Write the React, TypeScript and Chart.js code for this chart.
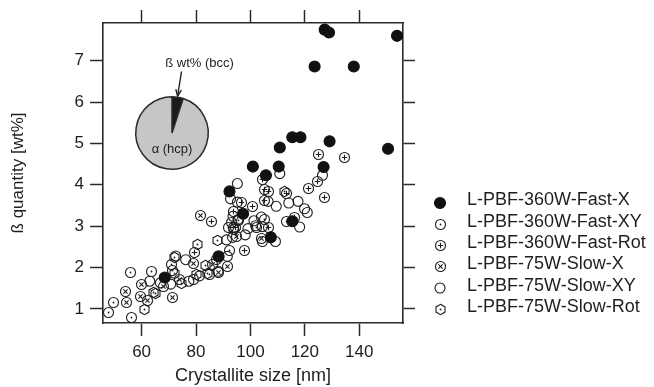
import React, { useEffect, useRef } from 'react';
import { Chart, registerables } from 'chart.js';
Chart.register(...registerables);

// ---------------- data ----------------
const seriesLabels = [
  'L-PBF-360W-Fast-X',
  'L-PBF-360W-Fast-XY',
  'L-PBF-360W-Fast-Rot',
  'L-PBF-75W-Slow-X',
  'L-PBF-75W-Slow-XY',
  'L-PBF-75W-Slow-Rot',
];

const fastX_x = [68.5, 88.3, 92.3, 97.3, 100.9, 105.7, 107.5, 110.4, 110.8, 115.4, 115.4, 118.4, 123.6, 126.9, 127.3, 128.9, 129.1, 138.0, 150.6, 153.9];
const fastX_y = [1.76, 2.27, 3.84, 3.30, 4.44, 4.23, 2.73, 4.44, 4.90, 3.12, 5.15, 5.15, 6.86, 4.43, 7.75, 7.68, 5.05, 6.86, 4.87, 7.60];

const fastXY_x = [48.0, 49.5, 56.2, 56.0, 63.6, 71.5, 70.9, 78.9, 92.4, 87.5, 93.6, 102.2, 92.0, 93.0, 95.7, 105.2, 113.2, 84.8];
const fastXY_y = [0.92, 1.16, 0.80, 1.88, 1.91, 1.93, 2.07, 1.71, 2.41, 2.19, 2.96, 2.96, 2.98, 3.08, 3.13, 3.16, 3.12, 1.83];

const fastRot_x = [79.3, 85.7, 97.9, 93.9, 94.5, 106.5, 100.9, 96.7, 104.3, 105.2, 106.5, 105.0, 113.2, 116.3, 121.2, 124.8, 127.1, 125.2, 134.7];
const fastRot_y = [2.37, 3.12, 2.42, 3.36, 2.96, 2.97, 3.48, 3.58, 4.12, 3.88, 3.83, 3.62, 3.80, 3.20, 3.90, 4.08, 3.70, 4.73, 4.66];

const slowX_x = [54.1, 54.6, 59.9, 59.5, 62.1, 68.1, 71.5, 74.0, 81.7, 79.1, 86.2, 94.8, 91.5, 88.3, 104.0];
const slowX_y = [1.43, 1.16, 1.60, 1.30, 1.20, 1.55, 1.28, 1.71, 3.25, 2.11, 2.07, 2.75, 2.03, 1.89, 2.71];

const slowXY_x = [63.0, 66.9, 70.7, 72.5, 76.2, 77.4, 81.3, 88.1, 91.2, 93.4, 91.5, 99.1, 104.4, 109.2, 98.1, 93.9, 95.4, 93.6, 101.3, 101.9, 104.0, 104.4, 95.2, 92.7, 95.2, 106.5, 109.5, 110.8, 114.1, 117.5, 119.9, 120.9, 118.1, 126.5];
const slowXY_y = [1.67, 1.63, 1.60, 2.28, 2.19, 1.67, 1.80, 1.91, 2.67, 2.73, 2.27, 2.94, 2.63, 2.63, 2.79, 2.92, 3.16, 3.24, 3.13, 3.01, 3.22, 2.99, 3.58, 3.66, 4.03, 3.60, 3.48, 4.27, 3.56, 3.60, 3.42, 3.33, 2.98, 4.23];

const slowRot_x = [60.9, 64.2, 65.2, 72.2, 72.2, 74.6, 80.7, 80.1, 84.4, 83.4, 87.9, 112.6];
const slowRot_y = [0.99, 1.40, 1.37, 2.25, 1.86, 1.61, 2.55, 1.83, 1.85, 2.06, 2.66, 3.84];

const xTicks = [60, 80, 100, 120, 140];
const yTicks = [1, 2, 3, 4, 5, 6, 7];
const X_MIN = 45.8;
const X_MAX = 156.1;
const Y_MIN = 0.66;
const Y_MAX = 7.91;

const xTitle = 'Crystallite size [nm]';
const yTitle = 'ß quantity [wt%]';

const pieLabels = ['ß wt% (bcc)', 'α (hcp)'];
const pieValues = [5, 95];

// ---------------- style ----------------
const FONT = "'Liberation Sans', Arial, Helvetica, sans-serif";
const INK = '#1e1e1e';
const AXIS = '#2b2b2b';

function makeMarker(kind: string, r: number): HTMLCanvasElement {
  const s = 2 * Math.ceil(r) + 3;
  const c = document.createElement('canvas');
  c.width = s;
  c.height = s;
  const g = c.getContext('2d')!;
  const m = s / 2;
  g.strokeStyle = INK;
  g.fillStyle = INK;
  g.lineWidth = 1.1;
  if (kind === 'hex') {
    g.beginPath();
    for (let i = 0; i < 6; i++) {
      const a = -Math.PI / 2 + (i * Math.PI) / 3;
      const px = m + r * Math.cos(a);
      const py = m + r * Math.sin(a);
      if (i === 0) g.moveTo(px, py);
      else g.lineTo(px, py);
    }
    g.closePath();
    g.stroke();
  } else {
    g.beginPath();
    g.arc(m, m, r, 0, Math.PI * 2);
    g.stroke();
  }
  if (kind === 'dot' || kind === 'hex') {
    g.beginPath();
    g.arc(m, m, 0.9, 0, Math.PI * 2);
    g.fill();
  } else if (kind === 'plus') {
    const d = r * 0.55;
    g.beginPath();
    g.moveTo(m - d, m);
    g.lineTo(m + d, m);
    g.moveTo(m, m - d);
    g.lineTo(m, m + d);
    g.stroke();
  } else if (kind === 'cross') {
    const d = r * 0.42;
    g.beginPath();
    g.moveTo(m - d, m - d);
    g.lineTo(m + d, m + d);
    g.moveTo(m + d, m - d);
    g.lineTo(m - d, m + d);
    g.stroke();
  }
  return c;
}

const pts = (xs: number[], ys: number[]) => xs.map((x, i) => ({ x, y: ys[i] }));

// keep image markers crisp at fractional pixel positions
const crispMarkers = {
  id: 'crispMarkers',
  beforeDatasetsDraw(chart: any) {
    chart.ctx.save();
    chart.ctx.imageSmoothingEnabled = false;
  },
  afterDatasetsDraw(chart: any) {
    chart.ctx.restore();
  },
};

const sideLegend = {
  id: 'sideLegend',
  afterDraw(chart: any) {
    const ctx = chart.ctx;
    ctx.save();
    ctx.font = `18px ${FONT}`;
    ctx.textBaseline = 'middle';
    ctx.textAlign = 'left';
    chart.data.datasets.forEach((ds: any, i: number) => {
      const ty = 200.5 + i * 21.3;
      const my = Math.round(ty + 2);
      const mx = 440;
      const ps = ds.pointStyle;
      if (ps instanceof HTMLCanvasElement) {
        ctx.drawImage(ps, Math.round(mx - ps.width / 2), Math.round(my - ps.height / 2));
      } else {
        ctx.beginPath();
        ctx.arc(mx, my, ds.pointRadius, 0, Math.PI * 2);
        ctx.fillStyle = ds.backgroundColor;
        ctx.fill();
        ctx.lineWidth = ds.borderWidth;
        ctx.strokeStyle = ds.borderColor;
        ctx.stroke();
      }
      ctx.fillStyle = INK;
      ctx.fillText(ds.label, 467, ty);
    });
    ctx.restore();
  },
};

const insetNote = {
  id: 'insetNote',
  afterDraw(chart: any) {
    const ctx = chart.ctx;
    ctx.save();
    ctx.font = `13px ${FONT}`;
    ctx.fillStyle = INK;
    ctx.textAlign = 'center';
    ctx.textBaseline = 'middle';
    ctx.fillText(pieLabels[0], 199.5, 63);
    const x0 = 181.5, y0 = 71.5, x1 = 177.6, y1 = 96;
    ctx.strokeStyle = INK;
    ctx.lineWidth = 1.4;
    ctx.beginPath();
    ctx.moveTo(x0, y0);
    ctx.lineTo(x1, y1);
    ctx.stroke();
    const ang = Math.atan2(y1 - y0, x1 - x0);
    const hl = 7, hw = 0.42;
    ctx.beginPath();
    ctx.moveTo(x1 - hl * Math.cos(ang - hw), y1 - hl * Math.sin(ang - hw));
    ctx.lineTo(x1, y1);
    ctx.lineTo(x1 - hl * Math.cos(ang + hw), y1 - hl * Math.sin(ang + hw));
    ctx.stroke();
    ctx.restore();
  },
};

const pieText = {
  id: 'pieText',
  afterDraw(chart: any) {
    const ctx = chart.ctx;
    ctx.save();
    ctx.font = `13px ${FONT}`;
    ctx.fillStyle = INK;
    ctx.textAlign = 'center';
    ctx.textBaseline = 'middle';
    ctx.fillText(pieLabels[1], 40, 56);
    ctx.restore();
  },
};

function axis(position: string, ticksArr: number[], min: number, max: number, size: number, tickLen: number, showLabels: boolean, title?: string, titleSize?: number, titlePad?: any) {
  const horizontal = position === 'top' || position === 'bottom';
  return {
    type: 'linear',
    position,
    min,
    max,
    afterBuildTicks: (s: any) => {
      s.ticks = ticksArr.map((v) => ({ value: v }));
    },
    afterFit: (s: any) => {
      if (horizontal) s.height = size;
      else s.width = size;
    },
    ticks: {
      display: showLabels,
      font: { size: 17, family: FONT },
      color: INK,
      padding: 6,
      maxRotation: 0,
      autoSkip: false,
    },
    grid: {
      drawOnChartArea: false,
      drawTicks: true,
      tickLength: tickLen,
      tickWidth: 1.5,
      tickColor: AXIS,
      color: AXIS,
    },
    border: { display: true, color: AXIS, width: 1.6 },
    title: title
      ? { display: true, text: title, color: INK, font: { size: titleSize, family: FONT }, padding: titlePad }
      : { display: false },
  };
}

export default function App() {
  const mainRef = useRef<HTMLCanvasElement>(null);
  const pieRef = useRef<HTMLCanvasElement>(null);

  useEffect(() => {
    Chart.defaults.font.family = FONT;
    Chart.defaults.color = INK;

    const mDot = makeMarker('dot', 5);
    const mPlus = makeMarker('plus', 5);
    const mCross = makeMarker('cross', 5);
    const mHex = makeMarker('hex', 5.2);

    const common = { showLine: false, borderWidth: 1.1, borderColor: INK };
    const datasets: any[] = [
      { ...common, label: seriesLabels[0], data: pts(fastX_x, fastX_y), pointStyle: 'circle', pointRadius: 5.5, backgroundColor: '#111', borderColor: '#111' },
      { ...common, label: seriesLabels[1], data: pts(fastXY_x, fastXY_y), pointStyle: mDot, pointRadius: 5, backgroundColor: 'rgba(0,0,0,0)' },
      { ...common, label: seriesLabels[2], data: pts(fastRot_x, fastRot_y), pointStyle: mPlus, pointRadius: 5, backgroundColor: 'rgba(0,0,0,0)' },
      { ...common, label: seriesLabels[3], data: pts(slowX_x, slowX_y), pointStyle: mCross, pointRadius: 5, backgroundColor: 'rgba(0,0,0,0)' },
      { ...common, label: seriesLabels[4], data: pts(slowXY_x, slowXY_y), pointStyle: 'circle', pointRadius: 5, backgroundColor: 'rgba(0,0,0,0)' },
      { ...common, label: seriesLabels[5], data: pts(slowRot_x, slowRot_y), pointStyle: mHex, pointRadius: 5, backgroundColor: 'rgba(0,0,0,0)' },
    ];

    const main = new Chart(mainRef.current!, {
      type: 'scatter',
      data: { datasets },
      options: {
        responsive: false,
        animation: false,
        events: [],
        layout: { padding: 0 },
        plugins: { legend: { display: false }, tooltip: { enabled: false } },
        scales: {
          x: axis('bottom', xTicks, X_MIN, X_MAX, 64, 13, true, xTitle, 18, { top: 0, bottom: 0 }),
          x2: axis('top', xTicks, X_MIN, X_MAX, 23, 13, false),
          y: axis('left', yTicks, Y_MIN, Y_MAX, 103, 13, true, yTitle, 17, { top: 8, bottom: 0 }),
          y2: axis('right', yTicks, Y_MIN, Y_MAX, 251, 12, false),
        } as any,
      },
      plugins: [crispMarkers, sideLegend, insetNote],
    } as any);

    const pie = new Chart(pieRef.current!, {
      type: 'pie',
      data: {
        labels: pieLabels,
        datasets: [
          {
            data: pieValues,
            backgroundColor: ['#1a1a1a', '#c6c6c6'],
            borderColor: '#2a2a2a',
            borderWidth: 1.5,
          },
        ],
      },
      options: {
        responsive: false,
        animation: false,
        events: [],
        layout: { padding: 3 },
        plugins: { legend: { display: false }, tooltip: { enabled: false } },
      },
      plugins: [pieText],
    } as any);

    return () => {
      main.destroy();
      pie.destroy();
    };
  }, []);

  return (
    <div style={{ position: 'fixed', left: 0, top: 0, width: 654, height: 387, background: '#fff' }}>
      <canvas ref={mainRef} width={654} height={387} style={{ position: 'absolute', left: 0, top: 0, width: 654, height: 387 }} />
      <canvas ref={pieRef} width={80} height={80} style={{ position: 'absolute', left: 132, top: 93, width: 80, height: 80 }} />
    </div>
  );
}
